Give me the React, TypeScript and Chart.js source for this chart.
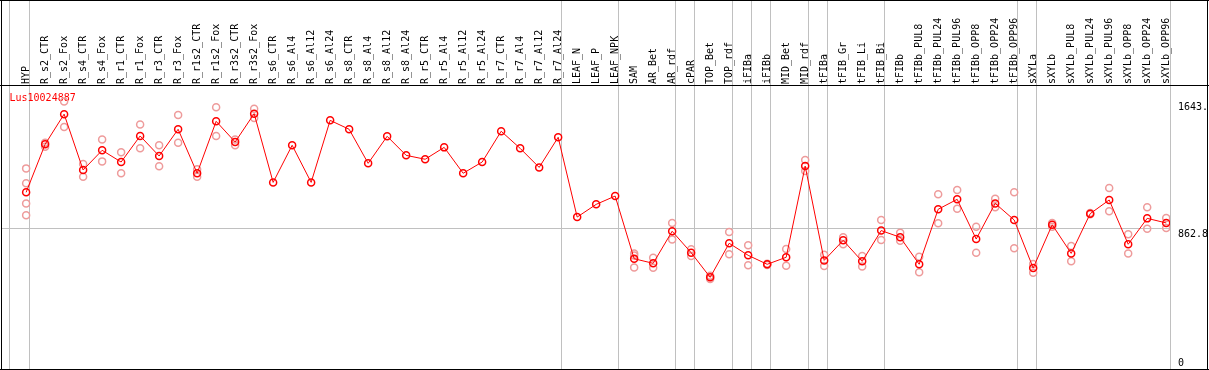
import React, { useEffect, useRef } from 'react';
import { Chart, registerables } from 'chart.js';

Chart.register(...registerables);

const geneId = 'Lus10024887';

const categories = [
  'HYP', 'R_s2_CTR', 'R_s2_Fox', 'R_s4_CTR', 'R_s4_Fox', 'R_r1_CTR', 'R_r1_Fox', 'R_r3_CTR', 'R_r3_Fox',
  'R_r1s2_CTR', 'R_r1s2_Fox', 'R_r3s2_CTR', 'R_r3s2_Fox', 'R_s6_CTR', 'R_s6_Al4', 'R_s6_Al12', 'R_s6_Al24',
  'R_s8_CTR', 'R_s8_Al4', 'R_s8_Al12', 'R_s8_Al24', 'R_r5_CTR', 'R_r5_Al4', 'R_r5_Al12', 'R_r5_Al24',
  'R_r7_CTR', 'R_r7_Al4', 'R_r7_Al12', 'R_r7_Al24', 'LEAF_N', 'LEAF_P', 'LEAF_NPK', 'SAM', 'AR_Bet', 'AR_rdf',
  'cPAR', 'TOP_Bet', 'TOP_rdf', 'iFIBa', 'iFIBb', 'MID_Bet', 'MID_rdf', 'tFIBa', 'tFIB_Gr', 'tFIB_Li', 'tFIB_Bi',
  'tFIBb', 'tFIBb_PUL8', 'tFIBb_PUL24', 'tFIBb_PUL96', 'tFIBb_OPP8', 'tFIBb_OPP24', 'tFIBb_OPP96',
  'sXYLa', 'sXYLb', 'sXYLb_PUL8', 'sXYLb_PUL24', 'sXYLb_PUL96', 'sXYLb_OPP8', 'sXYLb_OPP24', 'sXYLb_OPP96',
];

// index of the last category of each sample group (a separator line follows it)
const groupEnds = [-1, 0, 28, 31, 34, 35, 37, 38, 39, 41, 42, 45, 52, 53, 60];

const means = [
  1085, 1380, 1565, 1222, 1343, 1271, 1431, 1308, 1472, 1202, 1521, 1394, 1568,
  1146, 1374, 1146, 1527, 1472, 1263, 1429, 1312, 1288, 1361, 1202, 1271, 1460, 1355, 1238, 1423,
  933, 1011, 1062, 677, 649, 846, 714, 563, 772, 698, 643, 686, 1246, 667, 790, 661, 850,
  809, 643, 981, 1042, 798, 1017, 915, 620, 886, 710, 954, 1038, 766, 925, 897,
];

const rep1 = [
  1232, 1390, 1643, 1259, 1410, 1331, 1502, 1374, 1560, 1226, 1607, 1410, 1598,
  null, null, null, null, null, null, null, null, null, null, null, null, null, null, null, null,
  null, null, null, 710, 683, 896, 735, 573, 841, 760, 647, 737, 1283, 702, 809, 694, 915,
  837, 690, 1073, 1099, 874, 1046, 1085, 645, 896, 755, 958, 1111, 827, 993, 927,
];

const rep2 = [
  1140, 1365, 1486, 1181, 1275, 1202, 1355, 1245, 1390, 1181, 1431, 1374, 1541,
  null, null, null, null, null, null, null, null, null, null, null, null, null, null, null, null,
  null, null, null, 624, 622, 796, 694, 553, 704, 637, 639, 634, 1216, 632, 766, 630, 792,
  788, 594, 895, 984, 714, 993, 741, 591, 874, 661, 950, 968, 710, 862, 866,
];

const rep3 = [
  1017, null, null, null, null, null, null, null, null, null, null, null, null,
  null, null, null, null, null, null, null, null, null, null, null, null, null, null, null, null,
  null, null, null, 697, null, null, null, null, null, null, null, null, null, null, null, null, null,
  null, null, null, null, null, null, null, null, null, null, null, null, null, null, null,
];

const rep4 = [
  944, null, null, null, null, null, null, null, null, null, null, null, null,
  null, null, null, null, null, null, null, null, null, null, null, null, null, null, null, null,
  null, null, null, null, null, null, null, null, null, null, null, null, null, null, null, null, null,
  null, null, null, null, null, null, null, null, null, null, null, null, null, null, null,
];

const yTickValues = [0, 862.8, 1643];
const yTickLabels = ['0', '862.8', '1643.'];
const yAxisMax = 1725.6;

const X_MIN = -1.27;
const X_MAX = 60.2;
const SEP_OFFSET = 0.2;
const GRID = 'rgb(192,192,192)';
const MEAN_COLOR = '#ff0000';
const REP_COLOR = 'rgb(238,155,155)';
const FONT_FAMILY = 'DejaVu Sans Mono';

function toPoints(arr: (number | null)[]) {
  const out: { x: number; y: number }[] = [];
  arr.forEach((v, i) => {
    if (v != null) out.push({ x: i, y: v });
  });
  return out;
}

const framePlugin = {
  id: 'frame',
  beforeDatasetsDraw(chart: any) {
    const ctx = chart.ctx;
    const area = chart.chartArea;
    ctx.save();
    ctx.fillStyle = MEAN_COLOR;
    ctx.font = `10px "${FONT_FAMILY}"`;
    ctx.textAlign = 'left';
    ctx.textBaseline = 'alphabetic';
    ctx.fillText(geneId, 9.5, area.top + 13);
    ctx.restore();
  },
  afterDraw(chart: any) {
    const ctx = chart.ctx;
    const W = chart.width;
    const H = chart.height;
    const area = chart.chartArea;
    const ys = chart.scales.y;
    ctx.save();
    ctx.fillStyle = '#000';
    ctx.fillRect(0, 0, W, 1);
    ctx.fillRect(0, H - 1, W, 1);
    ctx.fillRect(1, 0, 1, H);
    ctx.fillRect(W - 2, 0, 1, H);
    ctx.fillRect(0, area.top - 3, W, 1);
    ctx.font = `10px "${FONT_FAMILY}"`;
    ctx.textAlign = 'left';
    ctx.textBaseline = 'alphabetic';
    ys.ticks.forEach((t: any, i: number) => {
      const py = ys.getPixelForValue(t.value);
      const by = t.value === 0 ? py - 3 : py + 8.5;
      ctx.fillText(yTickLabels[i], area.right + 8, by);
    });
    ctx.restore();
  },
};

export default function App() {
  const ref = useRef<HTMLCanvasElement | null>(null);

  useEffect(() => {
    document.body.style.margin = '0';
    if (!ref.current) return;
    const pointCommon = {
      pointRadius: 3.5,
      pointHoverRadius: 3.5,
      pointBorderWidth: 1.5,
      pointBackgroundColor: 'rgba(0,0,0,0)',
    };
    const repSet = (arr: (number | null)[], label: string) => ({
      label,
      data: toPoints(arr),
      showLine: false,
      pointBorderColor: REP_COLOR,
      borderColor: REP_COLOR,
      order: 1,
      xAxisID: 'x',
      yAxisID: 'y',
      ...pointCommon,
    });
    const chart = new Chart(ref.current, {
      type: 'line',
      data: {
        datasets: [
          {
            label: 'mean',
            data: toPoints(means),
            borderColor: MEAN_COLOR,
            borderWidth: 1,
            pointBorderColor: MEAN_COLOR,
            tension: 0,
            order: 0,
            xAxisID: 'x',
            yAxisID: 'y',
            ...pointCommon,
          },
          repSet(rep1, 'rep1'),
          repSet(rep2, 'rep2'),
          repSet(rep3, 'rep3'),
          repSet(rep4, 'rep4'),
        ] as any,
      },
      options: {
        responsive: false,
        animation: false,
        events: [],
        layout: { autoPadding: false, padding: { left: 2, right: 1, top: 0, bottom: 1 } },
        plugins: {
          legend: { display: false },
          tooltip: { enabled: false },
          title: { display: false },
        },
        scales: {
          x: {
            type: 'linear',
            position: 'top',
            weight: 1,
            min: X_MIN,
            max: X_MAX,
            grid: { display: false, drawTicks: false },
            border: { display: false },
            afterBuildTicks: (s: any) => {
              s.ticks = categories.map((_, i) => ({ value: i }));
            },
            afterFit: (s: any) => {
              s.height = 88;
              s.paddingLeft = 0;
              s.paddingRight = 0;
            },
            ticks: {
              autoSkip: false,
              minRotation: 90,
              maxRotation: 90,
              padding: 4,
              labelOffset: 12,
              color: '#000',
              font: { family: FONT_FAMILY, size: 10 },
              callback: (v: any) => categories[v as number] ?? '',
            },
          },
          xg: {
            type: 'linear',
            position: 'top',
            weight: 0,
            min: X_MIN,
            max: X_MAX,
            grid: { display: true, color: GRID, lineWidth: 1, drawTicks: true, tickLength: 88 },
            border: { display: false },
            ticks: { display: false },
            afterBuildTicks: (s: any) => {
              s.ticks = groupEnds.map((g) => ({ value: g === -1 ? X_MIN + 0.42 : g + SEP_OFFSET }));
            },
            afterFit: (s: any) => {
              s.height = 0;
              s.paddingLeft = 0;
              s.paddingRight = 0;
            },
          },
          y: {
            type: 'linear',
            position: 'right',
            min: 0,
            max: yAxisMax,
            grid: {
              drawTicks: false,
              color: (c: any) => (c.tick && c.tick.value === 862.8 ? GRID : 'rgba(0,0,0,0)'),
              lineWidth: 1,
            },
            border: { display: false },
            ticks: { display: false },
            afterBuildTicks: (s: any) => {
              s.ticks = yTickValues.map((v) => ({ value: v }));
            },
            afterFit: (s: any) => {
              s.width = 38;
              s.paddingTop = 0;
              s.paddingBottom = 0;
            },
          },
        },
      } as any,
      plugins: [framePlugin],
    });
    return () => chart.destroy();
  }, []);

  return (
    <div style={{ position: 'absolute', left: 0, top: 0 }}>
      <canvas ref={ref} width={1209} height={370} style={{ display: 'block', width: 1209, height: 370 }} />
    </div>
  );
}
